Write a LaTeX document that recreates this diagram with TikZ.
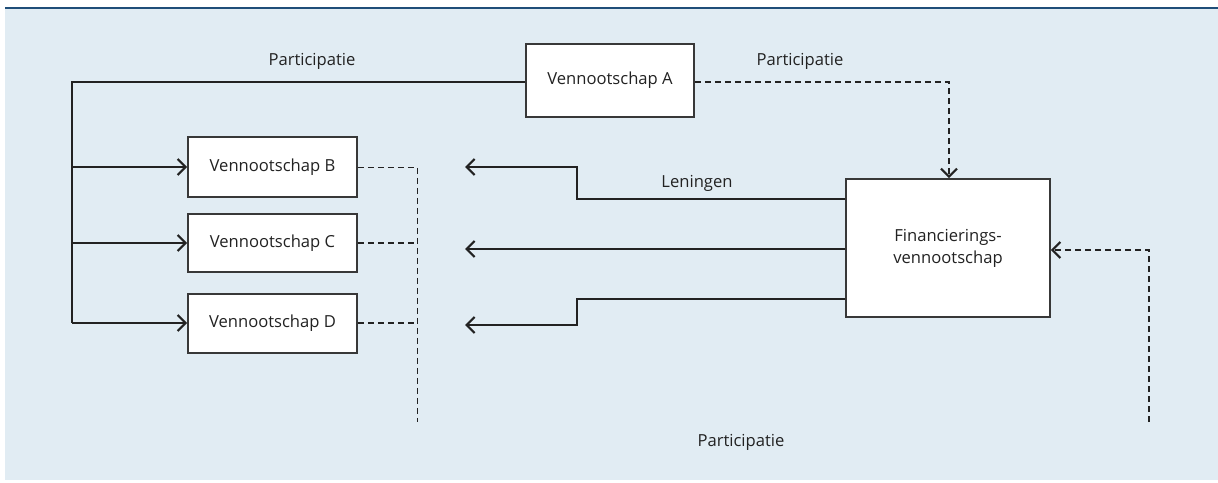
\documentclass[tikz,border=0pt]{standalone}
\usepackage{fontspec}
\setmainfont{Open Sans}
\usetikzlibrary{arrows.meta}
\definecolor{bgblue}{HTML}{E1ECF3}
\definecolor{topline}{HTML}{1F4E79}
\definecolor{ink}{HTML}{222222}
\begin{document}
\begin{tikzpicture}[x=1pt,y=-1pt,
  font=\fontsize{16.6}{19}\selectfont,
  box/.style={draw=ink!90,line width=1.6pt,fill=white,inner sep=0pt,text=ink},
  solidline/.style={draw=ink,line width=1.4pt},
  dashline/.style={draw=ink,line width=1.2pt,dash pattern=on 6pt off 4pt},
  arr/.style={-{Straight Barb[length=8pt,width=16pt,line width=2.2pt]}},
  lbl/.style={text=ink,inner sep=0pt}]
\useasboundingbox (0,0) rectangle (1218,482);
\fill[bgblue] (5,8) rectangle (1218,480);
\draw[topline,line width=2pt] (5,8) -- (1218,8);

% boxes
\node[box,minimum width=168pt,minimum height=73pt] (A) at (610,80.5) {Vennootschap A};
\node[box,minimum width=169pt,minimum height=60pt] (B) at (272.5,167) {Vennootschap B};
\node[box,minimum width=169pt,minimum height=58pt] (C) at (272.5,243) {Vennootschap C};
\node[box,minimum width=169pt,minimum height=59pt] (D) at (272.5,323.5) {Vennootschap D};
\node[box,minimum width=204pt,minimum height=138pt,align=center,font=\fontsize{16.6}{22}\selectfont] (F) at (948,248) {Financierings-\\vennootschap};

% labels
\node[lbl] (p1) at (312,61) {Participatie};
\node[lbl] (p2) at (800,61) {Participatie};
\node[lbl] (len) at (697,183) {Leningen};
\node[lbl] (p3) at (741,442) {Participatie};

% participation from A to B, C, D
\coordinate (L) at (72,82);
\coordinate (Lb) at (72,167);
\coordinate (Lc) at (72,243);
\coordinate (Ld) at (72,323);
\draw[solidline] (A.west |- L) -- (L) -- (Ld);
\draw[solidline,arr] (Lb) -- (B.west |- Lb);
\draw[solidline,arr] (Lc) -- (C.west |- Lc);
\draw[solidline,arr] (Ld) -- (D.west |- Ld);

% participation from A to F
\coordinate (AF) at (949,82);
\draw[dashline,arr] (A.east |- AF) -- (AF) -- (F.north -| AF);

% dashed from B, C, D
\coordinate (Vt) at (417,167);
\coordinate (Vc) at (417,243);
\coordinate (Vd) at (417,323);
\coordinate (Vbot) at (417,422);
\draw[dashline,line width=0.9pt] (B.east |- Vt) -- (Vt) -- (Vbot);
\draw[dashline] (C.east |- Vc) -- (Vc);
\draw[dashline] (D.east |- Vd) -- (Vd);

% participation into F from the right
\coordinate (Rt) at (1149,250);
\coordinate (Rb) at (1149,422);
\draw[dashline,arr] (Rb) -- (Rt) -- (F.east |- Rt);

% loans
\coordinate (t1) at (577,199);
\coordinate (t2) at (577,167);
\coordinate (tE) at (465,167);
\draw[solidline,arr] (F.west |- t1) -- (t1) -- (t2) -- (tE);
\coordinate (mE) at (465,249);
\draw[solidline,arr] (F.west |- mE) -- (mE);
\coordinate (b1) at (577,299);
\coordinate (b2) at (577,325);
\coordinate (bE) at (465,325);
\draw[solidline,arr] (F.west |- b1) -- (b1) -- (b2) -- (bE);
\end{tikzpicture}
\end{document}
